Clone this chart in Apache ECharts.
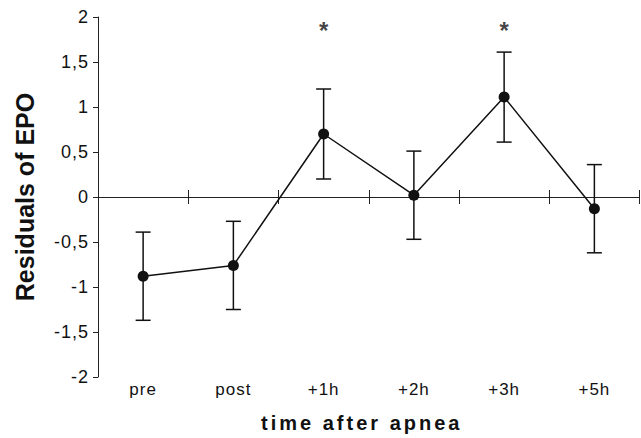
<!DOCTYPE html>
<html>
<head>
<meta charset="utf-8">
<script src="https://cdn.jsdelivr.net/npm/echarts@6/dist/echarts.min.js"></script>
<style>
  html, body { margin: 0; padding: 0; background: #fff; }
  #chart { width: 641px; height: 438px; }
  #chart text[style*="Arial"] { letter-spacing: 3px; }
  #chart text[style*="Helvetica"] { letter-spacing: 1px; }
</style>
</head>
<body>
<div id="chart"></div>
<script>
const categories = ['pre', 'post', '+1h', '+2h', '+3h', '+5h'];
const means = [-0.88, -0.76, 0.70, 0.02, 1.11, -0.13];
const errors = [0.49, 0.49, 0.50, 0.49, 0.50, 0.49];
const starPositions = [2, 4];
const starValues = [1.85, 1.85];
const yTicks = { min: -2, max: 2, interval: 0.5 };

const ink = '#111';
const chart = echarts.init(document.getElementById('chart'), null, { renderer: 'svg' });

const errData = categories.map((c, i) => [i, means[i], errors[i]]);
const starData = starPositions.map((p, i) => [p, starValues[i]]);

const gridRect = { left: 98, right: 1.5, top: 17, bottom: 61 };
const hiddenY = gi => ({ gridIndex: gi, type: 'value', min: yTicks.min, max: yTicks.max, show: false });

chart.setOption({
  animation: false,
  backgroundColor: '#fff',
  grid: [Object.assign({}, gridRect), Object.assign({}, gridRect), Object.assign({}, gridRect)],
  xAxis: [
    {
      gridIndex: 0, type: 'category', data: categories, position: 'bottom',
      axisLine: { onZero: true, lineStyle: { color: '#222', width: 1 } },
      axisTick: { show: true, length: 7, inside: false, lineStyle: { color: '#222' } },
      axisLabel: { show: false }, splitLine: { show: false }
    },
    {
      gridIndex: 2, type: 'category', data: categories, position: 'bottom',
      axisLine: { onZero: true, lineStyle: { color: '#222', width: 1 } },
      axisTick: { show: true, length: 7, inside: true, lineStyle: { color: '#222' } },
      axisLabel: { show: false }, splitLine: { show: false }
    },
    {
      gridIndex: 1, type: 'category', data: categories, position: 'bottom',
      axisLine: { show: false, onZero: false }, axisTick: { show: false },
      axisLabel: { show: true, fontSize: 17, color: ink, margin: 6, fontFamily: 'Liberation Sans, Helvetica' },
      name: 'time after apnea', nameLocation: 'middle', nameGap: 38,
      nameTextStyle: { fontSize: 20, fontWeight: 'bold', color: ink, fontFamily: 'Liberation Sans, Arial', padding: [0, 14, 0, 0] }
    }
  ],
  yAxis: [
    {
      gridIndex: 0, type: 'value', min: yTicks.min, max: yTicks.max, interval: yTicks.interval,
      axisLine: { show: true, onZero: false, lineStyle: { color: '#222', width: 1 } },
      axisTick: { show: true, length: 5, lineStyle: { color: '#222' } },
      splitLine: { show: false },
      axisLabel: { fontSize: 18, color: ink, margin: 9, fontFamily: 'Liberation Sans, Helvetica',
        formatter: v => String(v).replace('.', ',') },
      name: 'Residuals of EPO', nameLocation: 'middle', nameGap: 61,
      nameTextStyle: { fontSize: 25, fontWeight: 'bold', color: ink, fontFamily: 'Liberation Sans' }
    },
    hiddenY(1),
    hiddenY(2)
  ],
  series: [
    {
      type: 'custom', xAxisIndex: 0, yAxisIndex: 0, data: errData, z: 2,
      encode: { x: 0, y: 1 },
      renderItem: function (params, api) {
        const x = api.value(0), m = api.value(1), e = api.value(2);
        const top = api.coord([x, m + e]);
        const bot = api.coord([x, m - e]);
        const hw = 7.5;
        const st = { stroke: ink, lineWidth: 1.5 };
        return {
          type: 'group', children: [
            { type: 'line', shape: { x1: top[0], y1: top[1], x2: bot[0], y2: bot[1] }, style: st },
            { type: 'line', shape: { x1: top[0] - hw, y1: top[1], x2: top[0] + hw, y2: top[1] }, style: st },
            { type: 'line', shape: { x1: bot[0] - hw, y1: bot[1], x2: bot[0] + hw, y2: bot[1] }, style: st }
          ]
        };
      }
    },
    {
      type: 'line', xAxisIndex: 0, yAxisIndex: 0, data: means, z: 3,
      symbol: 'circle', symbolSize: 11, showSymbol: true,
      lineStyle: { color: ink, width: 1.5 }, itemStyle: { color: ink }
    },
    {
      type: 'scatter', xAxisIndex: 0, yAxisIndex: 0, data: starData, symbolSize: 0,
      label: { show: true, position: 'inside', formatter: '*', fontSize: 24, fontWeight: 'bold', color: ink, fontFamily: 'Liberation Sans' }
    }
  ]
});
</script>
</body>
</html>
